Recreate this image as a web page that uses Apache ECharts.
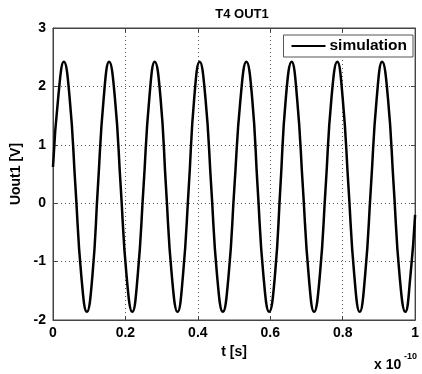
<!DOCTYPE html>
<html>
<head>
<meta charset="utf-8">
<script src="https://cdn.jsdelivr.net/npm/echarts@6/dist/echarts.min.js"></script>
<style>
html,body{margin:0;padding:0;background:#fff;}
#main{width:422px;height:374px;}
</style>
</head>
<body>
<div id="main"></div>
<script>
// time in units of 1e-10 s
var tValues = [0, 0.015,
  0.030, 0.046, 0.062, 0.078, 0.0935, 0.109, 0.124, 0.140,
  0.155, 0.171, 0.187, 0.203, 0.219, 0.234, 0.250, 0.266,
  0.281, 0.297, 0.312, 0.328, 0.344, 0.359, 0.375, 0.390,
  0.405, 0.421, 0.437, 0.453, 0.469, 0.485, 0.501, 0.518,
  0.534, 0.550, 0.565, 0.581, 0.597, 0.613, 0.628, 0.643,
  0.659, 0.674, 0.690, 0.706, 0.721, 0.737, 0.753, 0.769,
  0.785, 0.800, 0.816, 0.832, 0.847, 0.862, 0.878, 0.894,
  0.909, 0.925, 0.941, 0.957, 0.973, 0.987, 1.0];
var uValues = [0.62, 1.85,
  2.42, 1.80, 0.28, -1.23, -1.86, -1.23, 0.28, 1.80,
  2.42, 1.80, 0.28, -1.23, -1.86, -1.23, 0.28, 1.80,
  2.42, 1.80, 0.28, -1.23, -1.86, -1.23, 0.28, 1.80,
  2.42, 1.80, 0.28, -1.23, -1.86, -1.23, 0.28, 1.80,
  2.42, 1.80, 0.28, -1.23, -1.86, -1.23, 0.28, 1.80,
  2.42, 1.80, 0.28, -1.23, -1.86, -1.23, 0.28, 1.80,
  2.42, 1.80, 0.28, -1.23, -1.86, -1.23, 0.28, 1.80,
  2.42, 1.80, 0.28, -1.23, -1.86, -1.25, -0.2];
var xTicks = [0, 0.2, 0.4, 0.6, 0.8, 1];
var yTicks = [-2, -1, 0, 1, 2, 3];
var seriesName = 'simulation';

var FONT = 'Liberation Sans';
var data = tValues.map(function (t, i) { return [t, uValues[i]]; });
var chart = echarts.init(document.getElementById('main'));
var gridLine = {show: true, lineStyle: {color: '#555', type: [1, 3], width: 1}};
chart.setOption({
  animation: false,
  backgroundColor: '#fff',
  title: {
    text: 'T4 OUT1', left: 237, top: 3, textAlign: 'center',
    textStyle: {fontFamily: FONT, fontWeight: 'bold', fontSize: 13, color: '#000'}
  },
  grid: {left: 53, right: 2, top: 28, bottom: 54, show: true, borderColor: '#444', borderWidth: 1, backgroundColor: '#fff'},
  legend: {
    data: [seriesName], right: 9, top: 35, orient: 'vertical',
    backgroundColor: '#fff', borderColor: '#555', borderWidth: 1,
    padding: [3, 6, 3, 8], itemWidth: 34, itemHeight: 2, itemGap: 0,
    icon: 'rect',
    textStyle: {fontFamily: FONT, fontWeight: 'bold', fontSize: 15.5, color: '#000', padding: [0, 0, 0, -1]}
  },
  xAxis: [{
    type: 'value', min: xTicks[0], max: xTicks[xTicks.length - 1], interval: 0.2,
    name: 't [s]', nameLocation: 'middle', nameGap: 24,
    nameTextStyle: {fontFamily: FONT, fontWeight: 'bold', fontSize: 14, color: '#000'},
    axisLine: {show: true, onZero: false, lineStyle: {color: '#444'}},
    axisTick: {show: true, inside: true, length: 4, lineStyle: {color: '#444'}},
    axisLabel: {fontFamily: FONT, fontWeight: 'bold', fontSize: 14, color: '#000', margin: 6,
      formatter: function (v) { return String(+v.toFixed(1)); }},
    splitLine: gridLine
  }, {
    type: 'value', position: 'top', min: 0, max: 1, interval: 0.2,
    axisLine: {show: true, onZero: false, lineStyle: {color: '#444'}},
    axisTick: {show: true, inside: true, length: 4, lineStyle: {color: '#444'}},
    axisLabel: {show: false}, splitLine: {show: false}
  }],
  yAxis: [{
    type: 'value', min: yTicks[0], max: yTicks[yTicks.length - 1], interval: 1,
    name: 'Uout1 [V]', nameLocation: 'middle', nameGap: 30,
    nameTextStyle: {fontFamily: FONT, fontWeight: 'bold', fontSize: 14, color: '#000'},
    axisLine: {show: true, onZero: false, lineStyle: {color: '#444'}},
    axisTick: {show: true, inside: true, length: 4, lineStyle: {color: '#444'}},
    axisLabel: {fontFamily: FONT, fontWeight: 'bold', fontSize: 14, color: '#000', margin: 7},
    splitLine: gridLine
  }, {
    type: 'value', position: 'right', min: -2, max: 3, interval: 1,
    axisLine: {show: true, onZero: false, lineStyle: {color: '#444'}},
    axisTick: {show: true, inside: true, length: 4, lineStyle: {color: '#444'}},
    axisLabel: {show: false}, splitLine: {show: false}
  }],
  graphic: [
    {type: 'text', left: 374, top: 358, style: {text: 'x 10', font: 'bold 14px "Liberation Sans"', fill: '#000'}},
    {type: 'text', left: 404, top: 352, style: {text: '-10', font: 'bold 9px "Liberation Sans"', fill: '#000'}}
  ],
  series: [{
    name: seriesName, type: 'line', data: data, smooth: 0.5, showSymbol: false,
    lineStyle: {color: '#000', width: 2.5}, itemStyle: {color: '#000'}, z: 5
  }]
});
</script>
</body>
</html>
